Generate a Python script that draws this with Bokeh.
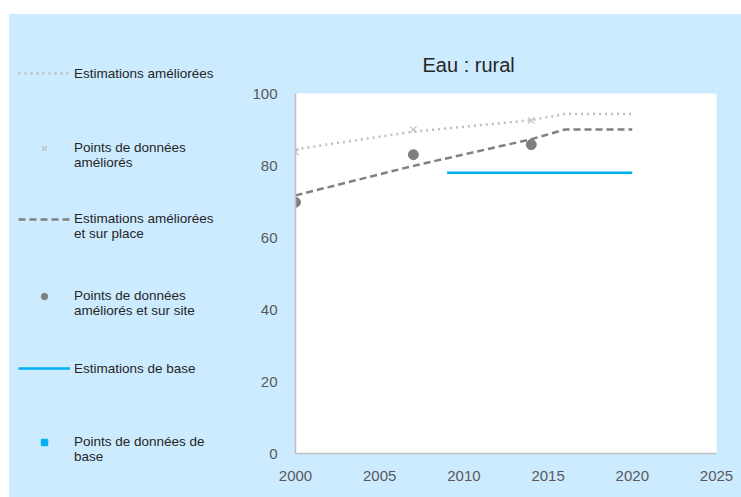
import numpy as np
from bokeh.plotting import figure
from bokeh.models import Range1d, Legend, LegendItem, FixedTicker, Spacer
from bokeh.layouts import row, column
from bokeh.embed import file_html
from bokeh.resources import INLINE

# ---- data ----
est_years = [2000, 2007, 2014, 2016, 2020]
improved_est = [84.5, 89.4, 92.6, 94.3, 94.3]
onsite_est = [71.7, 79.9, 87.3, 90.0, 90.0]
pt_years = [2000, 2007, 2014]
improved_pts = [83.7, 90.0, 92.5]
onsite_pts = [69.8, 83.0, 85.8]
basic_years = [2009, 2020]
basic_est = [78.0, 78.0]
basic_pt_years = [np.nan]   # no basic data points
basic_pts = [np.nan]
x_ticks = [2000, 2005, 2010, 2015, 2020, 2025]
y_ticks = [0, 20, 40, 60, 80, 100]

labels = [
    "Estimations améliorées",
    " \nPoints de données\naméliorés",
    " \nEstimations améliorées\net sur place",
    " \nPoints de données\naméliorés et sur site",
    "Estimations de base",
    " \nPoints de données de\nbase",
]

BG = "#CCEBFF"
FONT = "Liberation Sans"
H = 483

styles = [
    dict(kind="line", line_color="#BFBFBF", line_width=2.5, line_dash="2 4"),
    dict(kind="x", size=9, line_color="#BFBFBF", line_width=1.2),
    dict(kind="line", line_color="#808080", line_width=2.5, line_dash="7 4"),
    dict(kind="circle", size=10, fill_color="#7F7F7F", line_color="#7F7F7F"),
    dict(kind="line", line_color="#00B0F0", line_width=2.5),
    dict(kind="square", size=7, fill_color="#00B0F0", line_color="#00B0F0"),
]
series = [
    (est_years, improved_est),
    (pt_years, improved_pts),
    (est_years, onsite_est),
    (pt_years, onsite_pts),
    (basic_years, basic_est),
    (basic_pt_years, basic_pts),
]


def draw(fig, xs, ys, st):
    st = dict(st)
    kind = st.pop("kind")
    if kind == "line":
        return fig.line(xs, ys, **st)
    return fig.scatter(xs, ys, marker=kind, **st)


p = figure(width=496, height=H, output_backend="svg", toolbar_location=None,
           x_range=Range1d(2000, 2025), y_range=Range1d(0, 100),
           min_border_left=50, min_border_right=25, min_border_top=79, min_border_bottom=44)
p.border_fill_color = BG
p.background_fill_color = "white"
p.outline_line_color = None
p.grid.visible = False

for (xs, ys), st in zip(series, styles):
    draw(p, xs, ys, st)

for ax in (p.xaxis, p.yaxis):
    ax.axis_line_color = "#BFBFBF"
    ax.axis_line_width = 1.5
    ax.major_tick_line_color = None
    ax.minor_tick_line_color = None
    ax.major_tick_out = 0
    ax.major_tick_in = 0
    ax.minor_tick_out = 0
    ax.major_label_text_font = FONT
    ax.major_label_text_font_size = "15px"
    ax.major_label_text_color = "#595959"
p.xaxis.ticker = FixedTicker(ticks=x_ticks)
p.yaxis.ticker = FixedTicker(ticks=y_ticks)
p.yaxis.major_label_standoff = 18
p.xaxis.major_label_standoff = 17

p.title.text = "Eau : rural"
p.title.text_font = FONT
p.title.text_font_size = "20px"
p.title.text_font_style = "normal"
p.title.text_color = "#262626"
p.title.align = "left"
p.title.offset = 127
p.title.standoff = 36

# legend panel on the left
lf = figure(width=236, height=H, output_backend="svg", toolbar_location=None,
            x_axis_location=None, y_axis_location=None,
            x_range=Range1d(0, 1), y_range=Range1d(0, 1),
            min_border_left=0, min_border_right=0, min_border_top=0, min_border_bottom=0)
lf.border_fill_color = BG
lf.background_fill_color = BG
lf.outline_line_color = None
lf.grid.visible = False
for fig in (lf, p):
    try:
        fig.frame_align = False
    except Exception:
        pass

legend_x = [np.nan]  # legend-only renderers (nothing drawn in the panel)
legend_y = [np.nan]
locs = [(9, 416), (9, 327), (9, 256), (9, 179), (9, 121), (9, 33)]
for st, lab, loc in zip(styles, labels, locs):
    r = draw(lf, legend_x, legend_y, st)
    lg = Legend(items=[LegendItem(label=lab, renderers=[r])], location=loc,
                background_fill_alpha=0, border_line_alpha=0, padding=0, margin=0, spacing=0,
                glyph_width=52, glyph_height=16, label_standoff=4, label_height=16,
                label_text_font=FONT, label_text_font_size="13.5px", label_text_color="#262626")
    lf.add_layout(lg, "center")

panel = row(lf, p, styles={"background-color": BG})
layout = column(Spacer(height=14), row(Spacer(width=9), panel))
open("out.html", "w").write(file_html(layout, INLINE))
